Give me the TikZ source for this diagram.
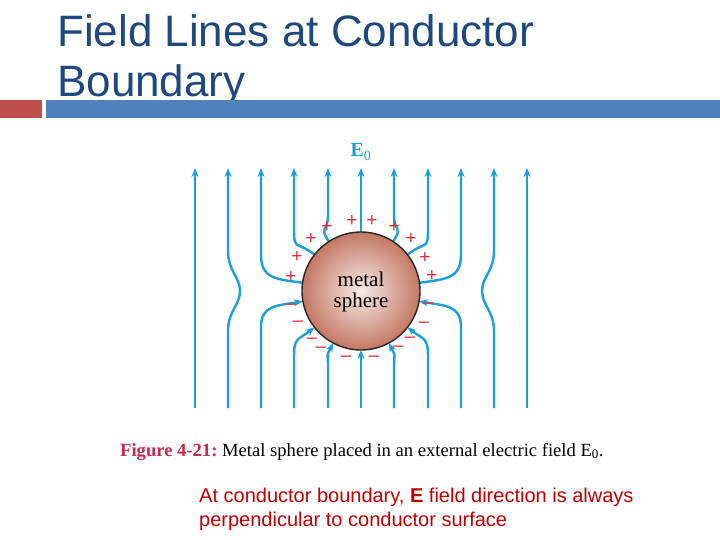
\documentclass[tikz,border=0pt]{standalone}
\usepackage{fontspec}
\setmainfont{Liberation Serif}
\setsansfont{Liberation Sans}
\usetikzlibrary{arrows.meta,calc}
\definecolor{fl}{HTML}{1A9FD8}
\definecolor{ttl}{HTML}{1F497D}
\definecolor{chg}{HTML}{E0303C}
\tikzset{fline/.style={draw=fl,line width=2.4pt},
 tip/.style={-{Stealth[length=9pt,width=7pt]}},
 chgtxt/.style={text=chg,font=\fontsize{19}{19}\selectfont\sffamily,inner sep=0pt}}
\begin{document}
\begin{tikzpicture}[x=1pt,y=-1pt]
\useasboundingbox (0,0) rectangle (720,540);
\fill[white] (0,0) rectangle (720,540);
\node[anchor=base west,inner sep=0pt,text=ttl,font=\fontsize{44}{44}\selectfont\sffamily] (t1) at (57,47) {Field Lines at Conductor};
\node[anchor=base west,inner sep=0pt,text=ttl,font=\fontsize{44}{44}\selectfont\sffamily] (t2) at (57,97) {Boundary};
\fill[fill={rgb,255:red,192;green,80;blue,77}] (0,100) rectangle (42,118);
\fill[fill={rgb,255:red,79;green,129;blue,189}] (46,100) rectangle (720,118);
\begin{scope}[shift={(361,291)}]
\foreach \s in {1,-1}{
\begin{scope}[xscale=\s]
 \draw[fline,tip] (-166,117) -- (-166,-123);
 \draw[fline,tip] (-133,117) -- (-133,40) .. controls (-133,20) and (-121,14) .. (-121,0) .. controls (-121,-14) and (-133,-20) .. (-133,-40) -- (-133,-123);
 \draw[fline,tip] (188:59) .. controls (188:85) and (-100,-12) .. (-100,-36) -- (-100,-123);
 \draw[fline,tip] (218:59) .. controls (218:82) and (-67,-40) .. (-67,-62) -- (-67,-123);
 \draw[fline,tip] (237:59) .. controls (237:78) and (-33,-58) .. (-33,-76) -- (-33,-123);
 \draw[fline,tip] (-100,117) -- (-100,36) .. controls (-100,14) and (170:85) .. (170:59);
 \draw[fline,tip] (-67,117) -- (-67,66) .. controls (-67,46) and (142:80) .. (142:59);
 \draw[fline,tip] (-33,117) -- (-33,74) .. controls (-33,62) and (118:75) .. (118:59);
\end{scope}}
\draw[fline,tip] (0,-59) -- (0,-123);
\draw[fline,tip] (0,117) -- (0,59);
\shade[inner color={rgb,255:red,245;green,235;blue,230},outer color={rgb,255:red,196;green,120;blue,100},draw=black!85,line width=1.4pt] (0,0) circle (59);
\node[font=\fontsize{21}{21}\selectfont,inner sep=0pt] (m1) at (0,-12) {metal};
\node[font=\fontsize{21}{21}\selectfont,inner sep=0pt] (m2) at (0,11) {sphere};
\node[text=fl,font=\fontsize{20}{20}\selectfont\bfseries,inner sep=0pt] (E) at (0,-139) {E\textsubscript{\normalfont 0}};
\foreach \x/\y [count=\i] in {-9/-70,11/-70,-34/-64,33/-64,-50/-52,50/-52,-64/-34,64/-33,-70/-14,71/-15}
 \node[chgtxt] (p\i) at (\x,\y) {+};
\foreach \x/\y [count=\i] in {-70/16,67/15,-63/33,63/34,-49/50,49/49,-40/59,37/58,-15/68,13/68}
 \node[chgtxt] (n\i) at (\x,\y) {\textendash};
\end{scope}
\node[anchor=base west,inner sep=0pt,font=\fontsize{18.6}{18.6}\selectfont] (cap) at (120,456) {\textcolor[HTML]{C8284E}{\bfseries Figure 4-21:}\ Metal sphere placed in an external electric field E\textsubscript{0}.};
\node[anchor=base west,inner sep=0pt,text={rgb,255:red,192;green,0;blue,0},font=\fontsize{20}{20}\selectfont\sffamily] (b1) at (199,502) {At conductor boundary, \textbf{E} field direction is always};
\node[anchor=base west,inner sep=0pt,text={rgb,255:red,192;green,0;blue,0},font=\fontsize{20}{20}\selectfont\sffamily] (b2) at (199,526) {perpendicular to conductor surface};
\end{tikzpicture}
\end{document}
